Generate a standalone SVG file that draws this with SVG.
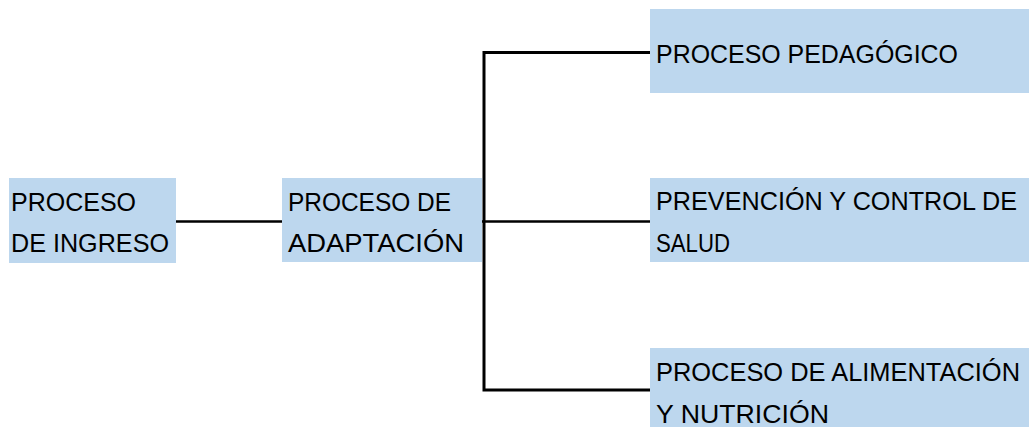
<svg xmlns="http://www.w3.org/2000/svg" width="1029" height="427" viewBox="0 0 1029 427">
<style>
.box{fill:#BDD7EE}
.t{font-family:"Liberation Sans",Arial,sans-serif;font-size:25.5px;fill:#000}
.c{stroke:#000;fill:none}
</style>
<rect width="1029" height="427" fill="#fff"/>
<g id="connectors">
<line class="c" x1="176" y1="221.5" x2="283" y2="221.5" stroke-width="2.5"/>
<line class="c" x1="482" y1="221.5" x2="651" y2="221.5" stroke-width="2.5"/>
<path class="c" d="M651 52.5 H484 V390 H651" stroke-width="3"/>
</g>
<g id="n1">
<rect class="box" x="9" y="178" width="167" height="85"/>
<text class="t" x="11" y="211" textLength="125" lengthAdjust="spacingAndGlyphs">PROCESO</text>
<text class="t" x="11" y="252" textLength="158" lengthAdjust="spacingAndGlyphs">DE INGRESO</text>
</g>
<g id="n2">
<rect class="box" x="282" y="178" width="200" height="84"/>
<text class="t" x="288" y="211" textLength="163" lengthAdjust="spacingAndGlyphs">PROCESO DE</text>
<text class="t" x="288" y="252" textLength="176" lengthAdjust="spacingAndGlyphs">ADAPTACIÓN</text>
</g>
<g id="n3">
<rect class="box" x="650" y="9" width="379" height="84"/>
<text class="t" x="656" y="63" textLength="302" lengthAdjust="spacingAndGlyphs">PROCESO PEDAGÓGICO</text>
</g>
<g id="n4">
<rect class="box" x="650" y="178" width="379" height="84"/>
<text class="t" x="656" y="210" textLength="361" lengthAdjust="spacingAndGlyphs">PREVENCIÓN Y CONTROL DE</text>
<text class="t" x="656" y="252" textLength="74" lengthAdjust="spacingAndGlyphs">SALUD</text>
</g>
<g id="n5">
<rect class="box" x="650" y="348" width="379" height="79"/>
<text class="t" x="656" y="381" textLength="364" lengthAdjust="spacingAndGlyphs">PROCESO DE ALIMENTACIÓN</text>
<text class="t" x="656" y="423" textLength="173" lengthAdjust="spacingAndGlyphs">Y NUTRICIÓN</text>
</g>
</svg>
